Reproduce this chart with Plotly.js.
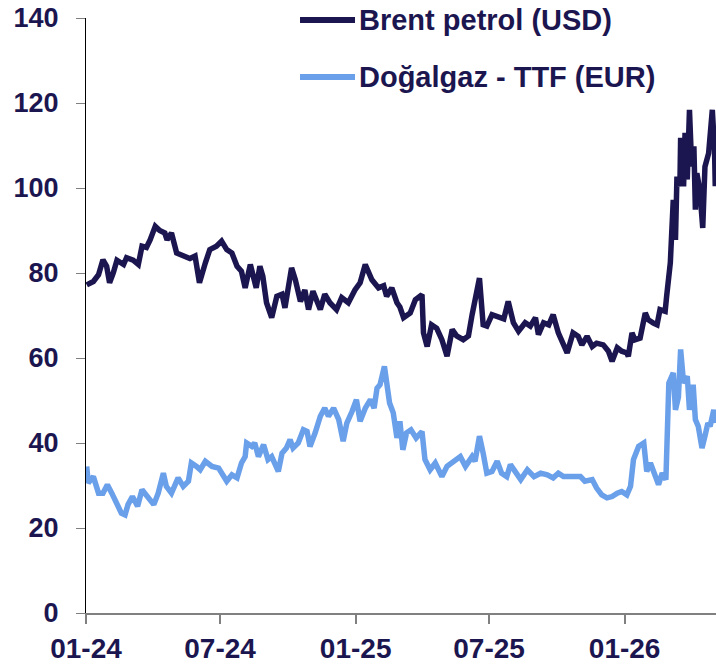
<!DOCTYPE html>
<html>
<head>
<meta charset="utf-8">
<script src="https://cdn.plot.ly/plotly-3.0.1.min.js"></script>
<style>html,body{margin:0;padding:0;background:#fff;}#chart{width:716px;height:666px;}</style>
</head>
<body>
<div id="chart"></div>
<script>
const seriesNames = ["Brent petrol (USD)", "Doğalgaz - TTF (EUR)"];

const brentDates = ["2024-01-02","2024-01-11","2024-01-18","2024-01-24","2024-01-29","2024-02-02","2024-02-07","2024-02-12","2024-02-21","2024-02-25","2024-03-05","2024-03-12","2024-03-17","2024-03-23","2024-03-28","2024-04-04","2024-04-10","2024-04-17","2024-04-20","2024-04-26","2024-05-03","2024-05-12","2024-05-21","2024-05-28","2024-06-03","2024-06-11","2024-06-17","2024-06-26","2024-07-03","2024-07-10","2024-07-17","2024-07-24","2024-07-30","2024-08-04","2024-08-11","2024-08-19","2024-08-24","2024-08-28","2024-09-02","2024-09-09","2024-09-16","2024-09-23","2024-09-27","2024-10-06","2024-10-11","2024-10-18","2024-10-24","2024-10-29","2024-11-04","2024-11-14","2024-11-20","2024-11-27","2024-12-06","2024-12-13","2024-12-22","2024-12-31","2025-01-07","2025-01-14","2025-01-23","2025-02-01","2025-02-08","2025-02-12","2025-02-19","2025-02-26","2025-03-02","2025-03-07","2025-03-16","2025-03-23","2025-04-01","2025-04-03","2025-04-08","2025-04-14","2025-04-21","2025-04-28","2025-05-05","2025-05-12","2025-05-18","2025-05-27","2025-06-03","2025-06-08","2025-06-12","2025-06-18","2025-06-23","2025-06-28","2025-07-05","2025-07-14","2025-07-21","2025-07-27","2025-08-03","2025-08-10","2025-08-19","2025-08-26","2025-09-02","2025-09-06","2025-09-13","2025-09-20","2025-09-26","2025-10-03","2025-10-10","2025-10-15","2025-10-23","2025-10-30","2025-11-04","2025-11-11","2025-11-18","2025-11-24","2025-12-03","2025-12-10","2025-12-15","2025-12-22","2025-12-28","2026-01-04","2026-01-06","2026-01-11","2026-01-15","2026-01-22","2026-01-29","2026-02-02","2026-02-09","2026-02-14","2026-02-18","2026-02-25","2026-02-27","2026-03-04","2026-03-08","2026-03-11","2026-03-13","2026-03-17","2026-03-18","2026-03-22","2026-03-24","2026-03-27","2026-03-30","2026-04-02","2026-04-05","2026-04-07","2026-04-09","2026-04-13","2026-04-17","2026-04-20","2026-04-25","2026-04-30","2026-05-03","2026-05-04"];
const brentValues = [77.2,78.0,79.6,83.1,81.6,77.7,80.0,83.0,82.0,83.6,83.0,82.0,86.3,86.0,87.8,91.0,90.0,89.4,87.8,89.4,84.7,84.0,83.4,84.0,77.7,82.4,85.5,86.3,87.5,85.5,84.7,81.6,80.4,76.5,82.0,76.5,81.6,79.2,73.0,69.5,74.5,75.0,71.8,81.2,78.5,73.3,76.0,71.4,75.7,71.4,75.0,73.0,71.4,74.2,73.0,76.0,77.7,82.0,78.4,76.5,77.0,74.5,76.5,73.0,72.0,69.5,70.6,73.7,74.9,65.9,62.7,67.8,67.0,64.3,60.4,66.7,65.2,64.3,65.2,70.2,73.7,78.8,67.8,67.5,70.2,69.5,69.2,73.3,68.3,66.3,68.3,67.5,69.5,65.5,68.3,67.8,70.2,65.9,63.5,61.2,65.9,65.1,63.1,65.1,62.7,63.5,63.1,61.6,59.2,62.4,61.6,61.2,60.4,65.9,64.3,64.7,70.6,69.0,68.2,67.8,71.4,71.0,74.5,82.4,97.2,87.8,102.7,100.4,111.8,100.4,113.0,102.0,118.4,105.1,109.8,94.9,103.5,99.6,90.6,105.0,108.2,118.4,109.0,100.4];

const gasDates = ["2024-01-02","2024-01-04","2024-01-11","2024-01-18","2024-01-24","2024-01-30","2024-02-05","2024-02-12","2024-02-18","2024-02-23","2024-02-27","2024-03-04","2024-03-11","2024-03-17","2024-03-23","2024-03-28","2024-04-02","2024-04-08","2024-04-15","2024-04-19","2024-04-26","2024-05-05","2024-05-12","2024-05-19","2024-05-23","2024-05-30","2024-06-04","2024-06-11","2024-06-20","2024-06-29","2024-07-05","2024-07-10","2024-07-17","2024-07-24","2024-07-30","2024-08-04","2024-08-06","2024-08-13","2024-08-17","2024-08-22","2024-08-29","2024-09-04","2024-09-09","2024-09-14","2024-09-18","2024-09-23","2024-09-29","2024-10-04","2024-10-08","2024-10-15","2024-10-22","2024-10-27","2024-10-31","2024-11-07","2024-11-14","2024-11-20","2024-11-25","2024-12-02","2024-12-09","2024-12-15","2024-12-20","2024-12-27","2025-01-02","2025-01-07","2025-01-14","2025-01-21","2025-01-26","2025-01-30","2025-02-03","2025-02-09","2025-02-12","2025-02-16","2025-02-21","2025-02-26","2025-03-02","2025-03-06","2025-03-11","2025-03-17","2025-03-24","2025-04-01","2025-04-05","2025-04-12","2025-04-19","2025-04-28","2025-05-05","2025-05-14","2025-05-23","2025-05-30","2025-06-08","2025-06-12","2025-06-18","2025-06-23","2025-06-28","2025-07-05","2025-07-12","2025-07-18","2025-07-25","2025-07-30","2025-08-06","2025-08-13","2025-08-22","2025-08-31","2025-09-09","2025-09-18","2025-09-26","2025-10-03","2025-10-10","2025-10-17","2025-10-26","2025-11-02","2025-11-08","2025-11-18","2025-11-24","2025-12-01","2025-12-08","2025-12-15","2025-12-22","2025-12-28","2026-01-04","2026-01-09","2026-01-13","2026-01-20","2026-01-27","2026-01-31","2026-02-05","2026-02-12","2026-02-16","2026-02-21","2026-02-26","2026-03-02","2026-03-08","2026-03-11","2026-03-15","2026-03-18","2026-03-22","2026-03-27","2026-03-30","2026-04-04","2026-04-07","2026-04-11","2026-04-16","2026-04-20","2026-04-24","2026-04-27","2026-05-02","2026-05-04"];
const gasValues = [34.5,30.6,32.1,28.2,28.2,30.2,28.2,25.5,23.5,23.1,25.5,27.4,25.1,29.0,27.8,26.7,25.5,28.2,32.9,29.8,28.2,31.8,29.8,31.0,35.3,34.5,33.7,35.7,34.5,34.1,32.5,31.0,32.5,31.8,35.3,36.8,40.0,39.2,40.0,36.8,39.6,36.1,36.8,34.5,33.3,37.6,38.8,40.8,38.8,40.0,43.1,42.7,39.2,42.4,46.3,48.2,46.3,48.2,45.5,40.4,44.7,47.4,50.2,45.1,48.2,50.2,48.2,52.9,53.7,58.0,54.9,49.4,47.1,41.2,45.1,38.4,42.4,43.1,41.2,42.7,36.1,33.7,35.3,32.1,34.5,35.7,36.8,34.5,36.8,35.7,41.6,37.6,32.9,33.3,35.7,32.9,32.1,34.9,32.9,31.4,33.7,32.1,32.9,32.5,31.8,32.9,32.1,32.1,31.8,32.1,31.0,31.4,29.4,27.8,27.1,27.4,28.2,28.6,27.8,29.8,36.1,39.2,40.0,33.3,35.3,32.1,30.2,32.9,31.4,54.1,56.5,47.8,50.8,62.0,54.1,55.7,47.8,53.7,45.5,43.9,38.8,41.6,44.7,43.9,47.8,44.7];

const yTickValues = [0, 20, 40, 60, 80, 100, 120, 140];

const navy = "#1c1650";
const lightBlue = "#6a9fea";
const seriesColors = [navy, lightBlue];
const fontFamily = "Liberation Sans, Arial, sans-serif";

const traces = [
  {x: brentDates, y: brentValues, name: seriesNames[0], type: "scatter", mode: "lines",
   line: {color: seriesColors[0], width: 5.5}},
  {x: gasDates, y: gasValues, name: seriesNames[1], type: "scatter", mode: "lines",
   line: {color: seriesColors[1], width: 5.5}}
];

// Legend drawn in paper coordinates (Plotly's own legend cannot reach the top edge)
const legendRowsY = [0.9967, 0.9009];
const legendShapes = seriesNames.map((n, i) => ({
  type: "line", xref: "paper", yref: "paper",
  x0: 0.3397, x1: 0.4270, y0: legendRowsY[i], y1: legendRowsY[i],
  line: {color: seriesColors[i], width: 6}
}));
const legendTexts = seriesNames.map((n, i) => ({
  xref: "paper", yref: "paper", x: 0.4300, y: legendRowsY[i],
  xanchor: "left", yanchor: "middle", showarrow: false, text: n,
  font: {size: 29, family: fontFamily, color: navy, weight: 700}
}));

const layout = {
  width: 716, height: 666,
  margin: {l: 86, r: 0, t: 18, b: 53},
  paper_bgcolor: "#fff", plot_bgcolor: "#fff",
  font: {family: fontFamily, color: navy, weight: 700},
  showlegend: false,
  shapes: legendShapes,
  annotations: legendTexts,
  xaxis: {
    type: "date",
    range: ["2024-01-01", "2026-05-05"],
    tick0: "2024-01-01", dtick: "M6", tickformat: "%m-%y",
    showgrid: false, zeroline: false,
    showline: true, linecolor: "#808080", linewidth: 2,
    ticks: "outside", ticklen: 9, tickwidth: 2, tickcolor: "#808080",
    tickfont: {size: 28, family: fontFamily, color: navy, weight: 700},
    ticklabelstandoff: 0
  },
  yaxis: {
    range: [0, 140],
    tickvals: yTickValues,
    showgrid: false, zeroline: false,
    showline: true, linecolor: "#000", linewidth: 1,
    ticks: "outside", ticklen: 9, tickwidth: 1, tickcolor: "#808080",
    tickfont: {size: 27, family: fontFamily, color: navy, weight: 700},
    ticklabelstandoff: 12
  }
};

Plotly.newPlot("chart", traces, layout, {displayModeBar: false, staticPlot: true});
</script>
</body>
</html>
